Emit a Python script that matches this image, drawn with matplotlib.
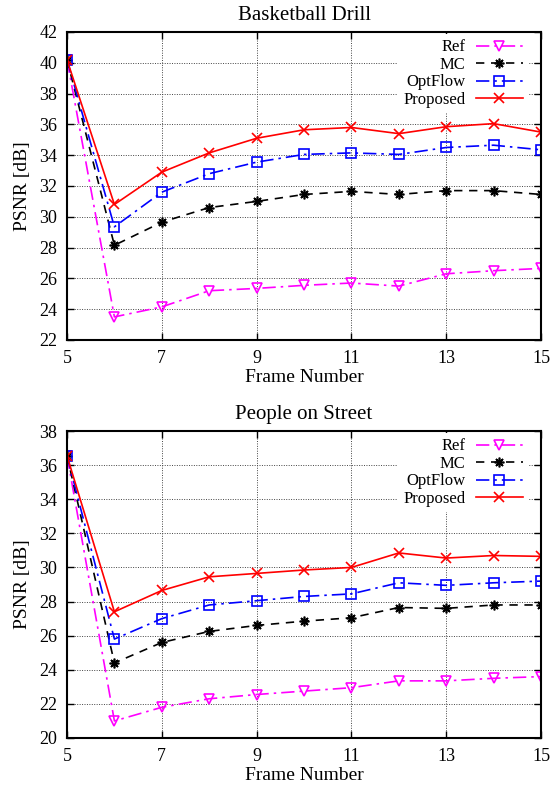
import matplotlib
matplotlib.use("Agg")
import matplotlib.pyplot as plt
from matplotlib.ticker import MultipleLocator

plt.rcParams['font.family'] = ['Liberation Serif', 'DejaVu Serif']

frames = [5, 6, 7, 8, 9, 10, 11, 12, 13, 14, 15]
series_names = ["Ref", "MC", "OptFlow", "Proposed"]

bb_ref = [40.2, 23.5, 24.15, 25.2, 25.35, 25.55, 25.7, 25.5, 26.3, 26.5, 26.65]
bb_mc = [40.2, 28.15, 29.65, 30.6, 31.0, 31.45, 31.65, 31.45, 31.7, 31.7, 31.45]
bb_opt = [40.2, 29.35, 31.6, 32.8, 33.55, 34.05, 34.15, 34.05, 34.5, 34.65, 34.35]
bb_prop = [40.2, 30.8, 32.9, 34.15, 35.1, 35.65, 35.8, 35.4, 35.85, 36.05, 35.5]

ps_ref = [36.55, 21.0, 21.8, 22.3, 22.55, 22.75, 22.95, 23.35, 23.35, 23.5, 23.6]
ps_mc = [36.55, 24.4, 25.6, 26.25, 26.6, 26.85, 27.05, 27.65, 27.6, 27.8, 27.8]
ps_opt = [36.55, 25.8, 27.0, 27.8, 28.05, 28.3, 28.45, 29.1, 28.95, 29.1, 29.2]
ps_prop = [36.55, 27.4, 28.65, 29.45, 29.65, 29.85, 30.0, 30.85, 30.55, 30.7, 30.65]

titles = ["Basketball Drill", "People on Street"]
ylims = [(22, 42), (20, 38)]
xticks = [5, 7, 9, 11, 13, 15]

styles = [
    dict(color="#ff00ff", ls=(0, (8, 3, 1.5, 3)), marker="v", mfc="none", ms=7, mew=1.2),
    dict(color="black", ls=(0, (5, 4)), marker=(8, 2, 0), mfc="none", ms=7, mew=1.2),
    dict(color="#0000ff", ls=(0, (8, 3, 1.5, 3)), marker="s", mfc="none", ms=6.5, mew=1.2),
    dict(color="#ff0000", ls="-", marker="x", mfc="none", ms=7, mew=1.2),
]

W, H = 552, 785
fig = plt.figure(figsize=(W / 100, H / 100), dpi=100)

boxes = [(67, 32, 541, 340), (67, 431, 541, 738)]
data = [[bb_ref, bb_mc, bb_opt, bb_prop], [ps_ref, ps_mc, ps_opt, ps_prop]]

for i in range(2):
    l, t, r, b = boxes[i]
    ax = fig.add_axes([l / W, 1 - b / H, (r - l) / W, (b - t) / H])
    for name, ys, st in zip(series_names, data[i], styles):
        ax.plot(frames, ys, label=name, lw=1.2, **st)
    ax.set_xlim(5, 15)
    ax.set_ylim(*ylims[i])
    ax.set_xticks(xticks)
    ax.yaxis.set_major_locator(MultipleLocator(2))
    ax.grid(True, color="#444444", ls=(0, (1, 1.5)), lw=0.7)
    ax.set_axisbelow(True)
    ax.tick_params(direction="in", top=True, right=True, length=5, width=1,
                   labelsize=13, pad=7)
    for sp in ax.spines.values():
        sp.set_linewidth(1.5)
    ax.set_title(titles[i], fontsize=15, pad=9)
    ax.set_xlabel("Frame Number", fontsize=14, labelpad=2)
    ax.set_ylabel("PSNR [dB]", fontsize=14, labelpad=6)
    leg = ax.legend(loc="upper right", bbox_to_anchor=(0.972, 0.992),
                    frameon=True, fancybox=False, facecolor="white", edgecolor="none",
                    framealpha=1, markerfirst=False, fontsize=12, handlelength=2.8,
                    handletextpad=0.65, labelspacing=0.09, borderaxespad=0,
                    borderpad=0.3, numpoints=1)

fig.savefig("out.png", dpi=100)
